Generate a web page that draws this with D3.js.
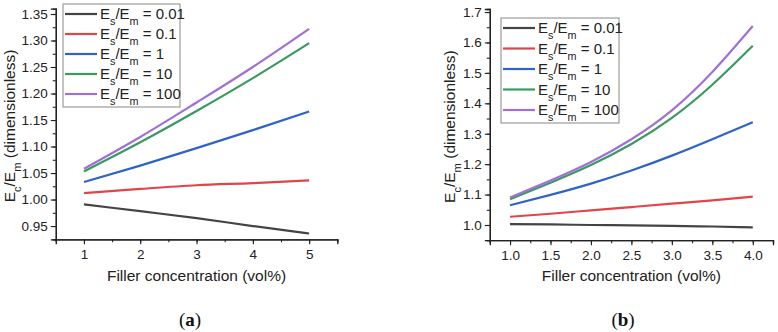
<!DOCTYPE html>
<html>
<head>
<meta charset="utf-8">
<script src="https://cdn.jsdelivr.net/npm/d3@7"></script>
<style>
  body { margin: 0; background: #fff; }
  svg { display: block; font-family: "Liberation Sans", Arial, sans-serif; }
</style>
</head>
<body>
<svg id="chart" width="778" height="332"></svg>
<script>
// legend ratios Es/Em
var ratios = ['0.01', '0.1', '1', '10', '100'];
var lineColors = ['#444444', '#e0454a', '#2e64c8', '#3a9a5f', '#a070d8'];

// panel (a): filler 1..5 vol%
var xA = [1, 2, 3, 4, 5];
var a001 = [0.991, 0.978, 0.965, 0.950, 0.936];
var a01 = [1.012, 1.020, 1.027, 1.031, 1.036];
var a1 = [1.033, 1.064, 1.097, 1.131, 1.166];
var a10 = [1.053, 1.108, 1.167, 1.229, 1.295];
var a100 = [1.058, 1.118, 1.183, 1.250, 1.322];
var xTicksA = [1, 2, 3, 4, 5];
var yTicksA = [0.95, 1.00, 1.05, 1.10, 1.15, 1.20, 1.25, 1.30, 1.35];

// panel (b): filler 1..4 vol%
var xB = [1.0, 1.5, 2.0, 2.5, 3.0, 3.5, 4.0];
var b001 = [1.003, 1.002, 1.000, 0.999, 0.997, 0.995, 0.992];
var b01 = [1.027, 1.037, 1.048, 1.059, 1.070, 1.081, 1.093];
var b1 = [1.065, 1.099, 1.136, 1.179, 1.228, 1.282, 1.338];
var b10 = [1.085, 1.139, 1.197, 1.266, 1.352, 1.461, 1.589];
var b100 = [1.090, 1.146, 1.207, 1.282, 1.377, 1.503, 1.654];
var xTicksB = [1.0, 1.5, 2.0, 2.5, 3.0, 3.5, 4.0];
var yTicksB = [1.0, 1.1, 1.2, 1.3, 1.4, 1.5, 1.6, 1.7];

var svg = d3.select('#chart');

function subLabel(sel, parts) {
  // parts: [text, isSub]
  parts.forEach(function(p) {
    var t = sel.append('tspan').text(p[0]);
    if (p[1]) t.attr('baseline-shift', 'sub').attr('font-size', '0.72em');
  });
}

function drawPanel(cfg) {
  var x = d3.scaleLinear().domain(cfg.xDomain).range([cfg.left, cfg.right]);
  var y = d3.scaleLinear().domain(cfg.yDomain).range([cfg.bottom, cfg.top]);
  var g = svg.append('g');

  // minor ticks
  var xAxis = d3.axisBottom(x).tickValues(cfg.xMinor).tickSize(3).tickFormat('');
  g.append('g').attr('transform', 'translate(0,' + cfg.bottom + ')').call(xAxis);
  var yAxis = d3.axisLeft(y).tickValues(cfg.yMinor).tickSize(3).tickFormat('');
  g.append('g').attr('transform', 'translate(' + cfg.left + ',0)').call(yAxis);

  // major ticks
  g.append('g').attr('transform', 'translate(0,' + cfg.bottom + ')')
    .call(d3.axisBottom(x).tickValues(cfg.xTicks).tickSize(5).tickPadding(5)
      .tickFormat(d3.format(cfg.xFmt)));
  g.append('g').attr('transform', 'translate(' + cfg.left + ',0)')
    .call(d3.axisLeft(y).tickValues(cfg.yTicks).tickSize(5).tickPadding(3)
      .tickFormat(d3.format(cfg.yFmt)));

  g.selectAll('.domain').attr('stroke', '#222').attr('stroke-width', 1.3);
  g.selectAll('.tick line').attr('stroke', '#222').attr('stroke-width', 1.1);
  g.selectAll('.tick text').attr('font-size', 13.5).attr('fill', '#222')
    .attr('font-family', '"Liberation Sans", Arial, sans-serif');

  // lines
  var line = d3.line()
    .x(function(d) { return x(d[0]); })
    .y(function(d) { return y(d[1]); })
    .curve(cfg.curve);
  cfg.series.forEach(function(vals, i) {
    g.append('path')
      .datum(cfg.xs.map(function(v, j) { return [v, vals[j]]; }))
      .attr('fill', 'none')
      .attr('stroke', lineColors[i])
      .attr('stroke-width', 2.2)
      .attr('d', line);
  });

  // x title
  g.append('text')
    .attr('x', (cfg.left + cfg.right) / 2)
    .attr('y', 281)
    .attr('text-anchor', 'middle')
    .attr('font-size', 15.5)
    .attr('fill', '#222')
    .text('Filler concentration (vol%)');

  // y title
  var yt = g.append('text')
    .attr('transform', 'translate(' + cfg.yTitleX + ',' + ((cfg.top + cfg.bottom) / 2 + 2) + ') rotate(-90)')
    .attr('text-anchor', 'middle')
    .attr('font-size', 15.5)
    .attr('fill', '#222');
  subLabel(yt, [['E', false], ['c', true], ['/E', false], ['m', true], [' (dimensionless)', false]]);

  // legend
  var lg = g.append('g').attr('transform', 'translate(' + cfg.legX + ',' + cfg.legY + ')');
  lg.append('rect')
    .attr('width', cfg.legW).attr('height', cfg.legH)
    .attr('fill', '#fff').attr('stroke', '#888').attr('stroke-width', 1);
  ratios.forEach(function(r, i) {
    var row = lg.append('g').attr('transform', 'translate(0,' + (10 + i * cfg.legStep) + ')');
    row.append('line')
      .attr('x1', 2).attr('x2', 34)
      .attr('stroke', lineColors[i]).attr('stroke-width', 2.2);
    var t = row.append('text')
      .attr('x', 37).attr('y', 5)
      .attr('font-size', 15).attr('fill', '#222');
    subLabel(t, [['E', false], ['s', true], ['/E', false], ['m', true], [' = ' + r, false]]);
  });

  // caption
  var cap = svg.append('text')
    .attr('x', cfg.capX).attr('y', 326)
    .attr('text-anchor', 'middle')
    .attr('font-family', '"Liberation Serif", "DejaVu Serif", serif')
    .attr('font-size', 19).attr('fill', '#111');
  cap.append('tspan').text('(');
  cap.append('tspan').attr('font-weight', 'bold').text(cfg.capLetter);
  cap.append('tspan').text(')');
}

drawPanel({
  xDomain: [0.5, 5.5], yDomain: [0.925, 1.36],
  left: 55.8, right: 337.3, top: 8.7, bottom: 239.3,
  xTicks: xTicksA, yTicks: yTicksA,
  xMinor: d3.range(0.5, 5.51, 0.5), yMinor: d3.range(0.925, 1.351, 0.025),
  xFmt: 'd', yFmt: '.2f',
  xs: xA, series: [a001, a01, a1, a10, a100],
  curve: d3.curveMonotoneX,
  yTitleX: 15,
  legX: 63, legY: 4, legW: 117, legH: 103, legStep: 20,
  capX: 190, capLetter: 'a'
});

drawPanel({
  xDomain: [0.75, 4.25], yDomain: [0.95, 1.71],
  left: 489.8, right: 773, top: 9, bottom: 240.2,
  xTicks: xTicksB, yTicks: yTicksB,
  xMinor: d3.range(0.75, 4.251, 0.25), yMinor: d3.range(0.95, 1.701, 0.05),
  xFmt: '.1f', yFmt: '.1f',
  xs: xB, series: [b001, b01, b1, b10, b100],
  curve: d3.curveNatural,
  yTitleX: 455,
  legX: 501, legY: 18, legW: 118, legH: 105, legStep: 20.5,
  capX: 623, capLetter: 'b'
});
</script>
</body>
</html>
